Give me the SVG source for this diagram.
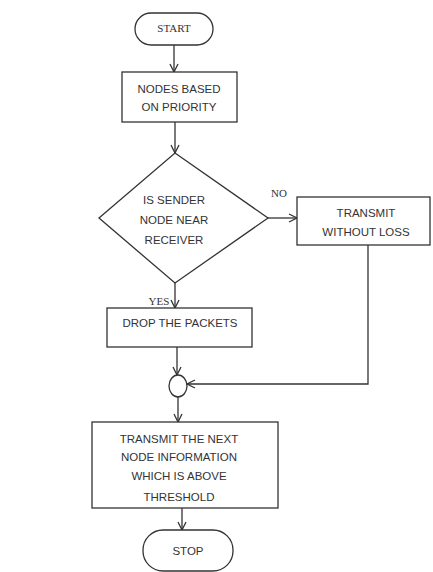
<svg xmlns="http://www.w3.org/2000/svg" width="433" height="572" viewBox="0 0 433 572">
<style>
.s{fill:#fff;stroke:#333;stroke-width:1.3}
.t{font-family:"Liberation Sans",Arial,sans-serif;font-size:11.5px;fill:#333;text-anchor:middle}
.f{font-family:"Liberation Serif","Times New Roman",serif;font-size:11px;fill:#333;text-anchor:middle}
.c{fill:none;stroke:#333;stroke-width:1.3}
</style>
<defs>
<marker id="a" viewBox="0 0 10 10" refX="9" refY="5" markerWidth="10" markerHeight="10" markerUnits="userSpaceOnUse" orient="auto">
<path d="M1,1 L9,5 L1,9" fill="none" stroke="#333" stroke-width="1.3"/>
</marker>
</defs>
<rect width="433" height="572" fill="#fff"/>
<g id="connectors">
<line class="c" x1="174" y1="45" x2="174" y2="72" marker-end="url(#a)"/>
<line class="c" x1="175" y1="122" x2="175" y2="153" marker-end="url(#a)"/>
<line class="c" x1="268" y1="218" x2="297" y2="218" marker-end="url(#a)"/>
<line class="c" x1="175" y1="283" x2="175" y2="308" marker-end="url(#a)"/>
<line class="c" x1="177" y1="347" x2="177" y2="375" marker-end="url(#a)"/>
<polyline class="c" points="368,245 368,384 187,384" marker-end="url(#a)"/>
<line class="c" x1="178" y1="397" x2="178" y2="422" marker-end="url(#a)"/>
<line class="c" x1="182" y1="508" x2="182" y2="530" marker-end="url(#a)"/>
<text class="f" x="279" y="197">NO</text>
<text class="f" x="159" y="305">YES</text>
</g>
<g id="start">
<rect class="s" x="135" y="13" width="78" height="32" rx="16"/>
<text class="f" x="174" y="32">START</text>
</g>
<g id="nodes">
<rect class="s" x="122" y="72" width="115" height="50"/>
<text class="t" x="179" y="93">NODES BASED</text>
<text class="t" x="179" y="111">ON PRIORITY</text>
</g>
<g id="decision">
<polygon class="s" points="175,153 268,218 175,283 99,218"/>
<text class="t" x="174" y="204">IS SENDER</text>
<text class="t" x="174" y="224">NODE NEAR</text>
<text class="t" x="174" y="244">RECEIVER</text>
</g>
<g id="transmit">
<rect class="s" x="297" y="197" width="133" height="48"/>
<text class="t" x="366" y="217">TRANSMIT</text>
<text class="t" x="366" y="236">WITHOUT LOSS</text>
</g>
<g id="drop">
<rect class="s" x="107" y="308" width="145" height="39"/>
<text class="t" x="180" y="327">DROP THE PACKETS</text>
</g>
<g id="join">
<ellipse class="s" cx="178" cy="386" rx="9" ry="11"/>
</g>
<g id="next">
<rect class="s" x="92" y="422" width="186" height="86"/>
<text class="t" x="179" y="443">TRANSMIT THE NEXT</text>
<text class="t" x="179" y="461">NODE INFORMATION</text>
<text class="t" x="179" y="480">WHICH IS ABOVE</text>
<text class="t" x="179" y="501">THRESHOLD</text>
</g>
<g id="stop">
<rect class="s" x="143" y="530" width="90" height="41" rx="20"/>
<text class="t" x="188" y="555">STOP</text>
</g>
</svg>
